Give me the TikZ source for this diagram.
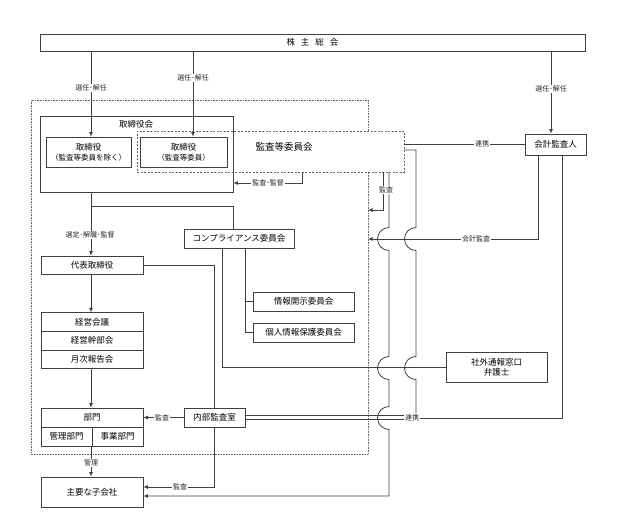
\documentclass[tikz,border=0pt]{standalone}
\usepackage{fontspec}
\setmainfont{Noto Sans CJK JP}
\usetikzlibrary{arrows.meta}
\begin{document}
\begin{tikzpicture}[x=1pt,y=-1pt,
  ln/.style={draw=black!75, line width=0.8pt},
  box/.style={ln, fill=white, inner sep=0pt, align=center, font=\fontsize{8.5}{10}\selectfont},
  lab/.style={fill=white, inner sep=1.2pt, font=\fontsize{7}{8}\selectfont, text=black!85},
  arr/.style={ln, -{Latex[length=4.5pt,width=4pt]}},
]
\useasboundingbox (0,0) rectangle (635,530);

% outer dotted box
\draw[draw=black!60, line width=0.7pt, dash pattern=on 0.8pt off 0.8pt]
  (368,131) -- (368,100) -- (31,100) -- (31,454) -- (368,454) -- (368,172);

\node[box, minimum width=545pt, minimum height=17pt] (sh) at (312.5,42.5) {株\hspace{6pt}主\hspace{6pt}総\hspace{6pt}会};

\node[box, minimum width=193pt, minimum height=76pt] (tb) at (136.5,154) {};
\node[font=\fontsize{8.5}{10}\selectfont] (tbl) at (136,124) {取締役会};
\node[box, minimum width=85pt, minimum height=30pt] (d1) at (88.5,152) {取締役\\{\fontsize{7.5}{10}\selectfont （監査等委員を除く）}};
\node[box, minimum width=87pt, minimum height=30pt] (d2) at (183.5,152) {取締役\\{\fontsize{7.5}{10}\selectfont （監査等委員）}};
\node[draw=black!60, line width=0.8pt, dash pattern=on 2pt off 1.5pt, minimum width=267pt, minimum height=41pt, inner sep=0pt] (ac) at (270.5,151.5) {};
\node[font=\fontsize{9.5}{11}\selectfont] (acl) at (284,147) {監査等委員会};

\node[box, minimum width=102pt, minimum height=18pt] (mgr) at (92,265) {代表取締役};
\node[box, minimum width=110pt, minimum height=19pt] (comp) at (239,238.5) {コンプライアンス委員会};
\node[box, minimum width=101pt, minimum height=19pt] (info) at (303.5,301.5) {情報開示委員会};
\node[box, minimum width=101pt, minimum height=19pt] (priv) at (303.5,332.5) {個人情報保護委員会};

\node[box, minimum width=102pt, minimum height=18.7pt] (km1) at (92,322) {経営会議};
\node[box, minimum width=102pt, minimum height=18.7pt] (km2) at (92,340.7) {経営幹部会};
\node[box, minimum width=102pt, minimum height=18.7pt] (km3) at (92,359.4) {月次報告会};

\node[box, minimum width=102pt, minimum height=19pt] (dept) at (92,417.5) {部門};
\node[box, minimum width=51pt, minimum height=19pt] (dA) at (66.5,436.5) {管理部門};
\node[box, minimum width=51pt, minimum height=19pt] (dB) at (117.5,436.5) {事業部門};

\node[box, minimum width=61pt, minimum height=19pt] (ia) at (214.5,417.5) {内部監査室};
\node[box, minimum width=102pt, minimum height=30pt] (sub) at (92,492) {主要な子会社};
\node[box, minimum width=61pt, minimum height=21pt] (aud) at (555.5,144.5) {会計監査人};
\node[box, minimum width=101pt, minimum height=30pt] (ext) at (496.5,367) {社外通報窓口\\弁護士};

% connectors
\draw[arr] (91,0 |- sh.south) -- (91,0 |- d1.north);
\draw[arr] (193,0 |- sh.south) -- (193,0 |- d2.north);
\draw[arr] (551,0 |- sh.south) -- (551,0 |- aud.north);

\draw[arr] (91,0 |- tb.south) -- (91,0 |- mgr.north);
\draw[ln] (91,206) -| (comp.north -| 233,0);
\draw[arr] (91,0 |- mgr.south) -- (91,0 |- km1.north);
\draw[arr] (91,0 |- km3.south) -- (91,0 |- dept.north);
\draw[arr] (91,0 |- dA.south) -- (91,0 |- sub.north);

\draw[ln] (mgr.east) -| (ia.north);
\draw[arr] (ia.south) |- (sub.east |- 0,487);
\draw[arr] (ia.west) -- (dept.east);
\draw[ln] (245,0 |- comp.south) |- (priv.west);
\draw[ln] (245,0 |- info.west) -- (info.west);
\draw[ln] (222.7,0 |- comp.south) |- (ext.west);

\draw[arr] (302.7,0 |- ac.south) |- (tb.east |- 0,183);
\draw[ln] (ac.east |- aud.west) -- (aud.west);

\coordinate (dotRa) at (368,210);
\coordinate (dotRb) at (368,239);
\draw[arr] (383,0 |- ac.south) |- (dotRa);
\draw[arr] (538,0 |- aud.south) |- (dotRb);

\draw[arr] (389,0 |- ac.south) -- (389,227.5)
  arc[start angle=90,end angle=270,radius=11.5pt] -- (389,356.5)
  arc[start angle=90,end angle=270,radius=11.5pt] -- (389,406.5)
  arc[start angle=90,end angle=270,radius=11.5pt] -- (389,496)
  -- (sub.east |- 0,496);

\node[inner sep=1.2pt, font=\fontsize{7}{8}\selectfont, text=black!85] (rk) at (412,418) {連携};
\draw[ln] (ac.east |- 0,150) -| (416,227.5)
  arc[start angle=90,end angle=270,radius=11.5pt] -- (416,356.5)
  arc[start angle=90,end angle=270,radius=11.5pt] -- (rk.north -| 416,0);
\draw[ln] ([yshift=2.3pt]ia.east) -- ([yshift=2.3pt]ia.east -| rk.west);
\draw[ln] ([yshift=-2.3pt]ia.east) -- ([yshift=-2.3pt]ia.east -| rk.west);
\draw[ln] (562,0 |- aud.south) |- (rk.east);

% labels
\node[lab] at (91,88) {選任･解任};
\node[lab] at (193,78) {選任･解任};
\node[lab] at (551,89) {選任･解任};
\node[lab] at (90,235) {選定･解職･監督};
\node[lab] at (268,183) {監査･監督};
\node[lab] at (482,144) {連携};
\node[lab] at (386,190) {監査};
\node[lab] at (476,239) {会計監査};
\node[lab] at (162,417.5) {監査};
\node[lab] at (91,463) {管理};
\node[lab] at (180,487) {監査};
\end{tikzpicture}
\end{document}
